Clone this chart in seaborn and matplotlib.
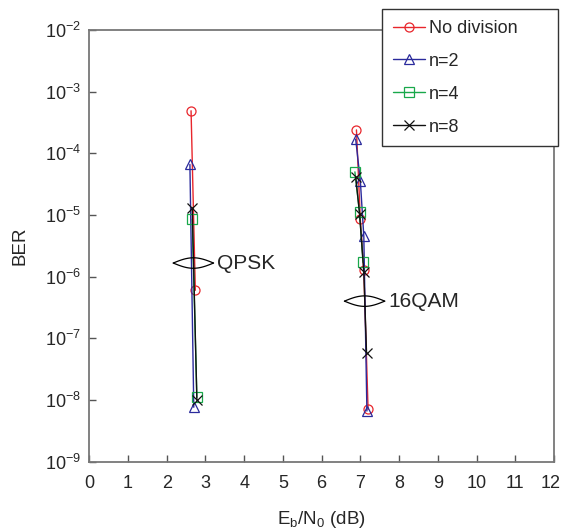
import numpy as np
import pandas as pd
import matplotlib
matplotlib.use("Agg")
import matplotlib.pyplot as plt
import matplotlib.transforms as mtransforms
import seaborn as sns

labels = ["No division", "n=2", "n=4", "n=8"]
colors = ["#e8262c", "#2a2a9c", "#19a84b", "#111111"]
marker_list = ["o", "^", "s", "x"]

# QPSK curves (Eb/N0 in dB, BER)
qpsk_eb = {
    "No division": [2.63, 2.74],
    "n=2": [2.60, 2.70],
    "n=4": [2.66, 2.78],
    "n=8": [2.66, 2.78],
}
qpsk_ber = {
    "No division": [4.9e-4, 6.0e-7],
    "n=2": [6.6e-5, 7.6e-9],
    "n=4": [8.5e-6, 1.1e-8],
    "n=8": [1.3e-5, 1.0e-8],
}

# 16QAM curves
qam_eb = {
    "No division": [6.90, 7.00, 7.09, 7.20],
    "n=2": [6.88, 7.00, 7.09, 7.17],
    "n=4": [6.86, 6.98, 7.07],
    "n=8": [6.88, 6.98, 7.09, 7.16],
}
qam_ber = {
    "No division": [2.4e-4, 8.5e-6, 1.26e-6, 7.0e-9],
    "n=2": [1.7e-4, 3.6e-5, 4.5e-6, 6.6e-9],
    "n=4": [5.0e-5, 1.1e-5, 1.7e-6],
    "n=8": [4.2e-5, 1.05e-5, 1.2e-6, 5.8e-8],
}

rows = []
for scheme, eb, ber in [("QPSK", qpsk_eb, qpsk_ber), ("16QAM", qam_eb, qam_ber)]:
    for lab in labels:
        for x, y in zip(eb[lab], ber[lab]):
            rows.append({"scheme": scheme, "label": lab, "eb": x, "ber": y})
df = pd.DataFrame(rows)

sns.set_style("ticks")
plt.rcParams["font.family"] = ["Liberation Sans", "DejaVu Sans"]
plt.rcParams["mathtext.fontset"] = "custom"
plt.rcParams["mathtext.rm"] = "Liberation Sans"
plt.rcParams["mathtext.it"] = "Liberation Sans:italic"
plt.rcParams["mathtext.default"] = "regular"

fig = plt.figure(figsize=(5.61, 5.32), dpi=100)
ax = fig.add_axes([0.159, 0.1325, 0.8285, 0.811])

sns.lineplot(data=df, x="eb", y="ber", hue="label",
             units="scheme", estimator=None, sort=False,
             palette=dict(zip(labels, colors)), hue_order=labels,
             linewidth=1.0, legend=False, ax=ax)

# hollow markers, one shape per series (seaborn can't mix 'x' with filled ones)
hex2idx = {matplotlib.colors.to_hex(c): i for i, c in enumerate(colors)}
handles = {}
for line in ax.lines:
    c = matplotlib.colors.to_hex(line.get_color())
    i = hex2idx[c]
    line.set_marker(marker_list[i])
    line.set_markersize(7 if marker_list[i] != "o" else 6.5)
    line.set_markerfacecolor("none")
    line.set_markeredgecolor(c)
    line.set_markeredgewidth(0.9)
    handles.setdefault(labels[i], line)

ax.set_yscale("log")
ax.set_xlim(0, 12)
ax.set_ylim(1e-9, 1e-2)
ax.set_xticks(range(0, 13))
ax.set_yticks([10.0 ** k for k in range(-9, -1)])
ax.yaxis.set_minor_locator(matplotlib.ticker.NullLocator())
ax.set_yticklabels([r"10$^{%d}$" % k for k in range(-9, -1)])
ax.tick_params(direction="in", length=5, width=1, color="#555555",
               labelsize=13, top=False, right=False)
ax.tick_params(axis="x", pad=10)
ax.tick_params(axis="y", pad=6)
for s in ax.spines.values():
    s.set_color("#777777")
    s.set_linewidth(1.3)

# keep the "12" inside the canvas
last = ax.get_xticklabels()[-1]
last.set_transform(last.get_transform() +
                   mtransforms.ScaledTranslation(-3 / 100, 0, fig.dpi_scale_trans))

ax.set_xlabel(r"E$_{\mathregular{b}}$/N$_{\mathregular{0}}$ (dB)", fontsize=13.5, labelpad=12)
ax.set_ylabel("BER", fontsize=13.5, labelpad=12)

# lens-shaped brackets around each group of curves
t = np.linspace(0, 1, 60)
for x0, x1, yc, name in [(2.17, 3.21, 1.66e-6, "QPSK"), (6.59, 7.63, 4.0e-7, "16QAM")]:
    xs = x0 + (x1 - x0) * t
    ax.plot(xs, yc * 10 ** (0.085 * np.sin(np.pi * t)), color="black", lw=0.9)
    ax.plot(xs, yc * 10 ** (-0.085 * np.sin(np.pi * t)), color="black", lw=0.9)
    ax.text(x1 + 0.1, yc, name, fontsize=15, va="center", ha="left")

leg = ax.legend([handles[l] for l in labels], labels, loc="upper left",
                bbox_to_anchor=(381.7 / 561, 1 - 141.7 / 532, 176 / 561, 132.7 / 532),
                bbox_transform=fig.transFigure, borderaxespad=0, mode="expand",
                fontsize=13, frameon=True, fancybox=False, framealpha=1,
                handlelength=1.8, handletextpad=0.2, labelspacing=0.88,
                borderpad=0.6)
leg.get_frame().set_edgecolor("#333333")
leg.get_frame().set_linewidth(1.0)
leg.set_zorder(10)

fig.savefig("out.png", dpi=100)
